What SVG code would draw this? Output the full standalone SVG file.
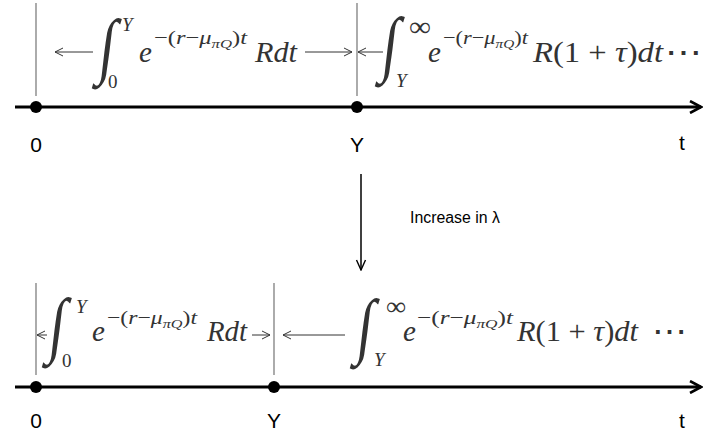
<svg xmlns="http://www.w3.org/2000/svg" width="704" height="436" viewBox="0 0 704 436">
<defs>
<marker id="axhead" viewBox="0 0 14 14" refX="12" refY="7" markerWidth="14" markerHeight="14" markerUnits="userSpaceOnUse" orient="auto">
<path d="M1,1 L12,7 L1,13" fill="none" stroke="#000" stroke-width="2.6"/>
</marker>
<marker id="mhead" viewBox="0 0 10 10" refX="9" refY="5" markerWidth="10" markerHeight="10" markerUnits="userSpaceOnUse" orient="auto">
<path d="M1,1 L9,5 L1,9" fill="none" stroke="#333" stroke-width="1"/>
</marker>
<marker id="bighead" viewBox="0 0 12 12" refX="6" refY="11" markerWidth="12" markerHeight="12" markerUnits="userSpaceOnUse" orient="0">
<path d="M1.5,1 L6,11 L10.5,1" fill="none" stroke="#000" stroke-width="1.4"/>
</marker>
</defs>
<style>
.axis{stroke:#000;stroke-width:3;fill:none}
.tick{stroke:#7f7f7f;stroke-width:1.3}
.marr{stroke:#333;stroke-width:1;fill:none}
.lab{font-family:"Liberation Sans",Arial,sans-serif;font-size:21px;fill:#000;text-anchor:middle}
.m{font-family:"Liberation Serif","Times New Roman",serif;fill:#333}
.big{font-size:29px}
.sup{font-size:19px}
.sub{font-size:13px}
.lim{font-size:19px}
.int{font-size:52px}
.i{font-style:italic}
</style>
<rect width="704" height="436" fill="#fff"/>

<g id="connectors">
<line class="axis" x1="15" y1="107" x2="701" y2="107" marker-end="url(#axhead)"/>
<line class="axis" x1="15" y1="387" x2="701" y2="387" marker-end="url(#axhead)"/>
<line class="tick" x1="36" y1="3" x2="36" y2="96"/>
<line class="tick" x1="357" y1="3" x2="357" y2="96"/>
<line class="tick" x1="36" y1="283" x2="36" y2="375"/>
<line class="tick" x1="274" y1="283" x2="274" y2="375"/>
<line class="marr" x1="93" y1="52" x2="55" y2="52" marker-end="url(#mhead)"/>
<line class="marr" x1="305" y1="52" x2="352" y2="52" marker-end="url(#mhead)"/>
<line class="marr" x1="383" y1="52" x2="358" y2="52" marker-end="url(#mhead)"/>
<line class="marr" x1="47" y1="335" x2="37" y2="335" marker-end="url(#mhead)"/>
<line class="marr" x1="252" y1="335" x2="270" y2="335" marker-end="url(#mhead)"/>
<line class="marr" x1="345" y1="335" x2="283" y2="335" marker-end="url(#mhead)"/>
<line x1="361" y1="174" x2="361" y2="270" stroke="#000" stroke-width="1.5" marker-end="url(#bighead)"/>
</g>

<g id="top-timeline">
<circle cx="36" cy="107" r="6" fill="#000"/>
<circle cx="357" cy="107" r="6" fill="#000"/>
<text class="lab" x="36" y="152">0</text>
<text class="lab" x="357" y="152">Y</text>
<text class="lab" x="682" y="150">t</text>
</g>

<g id="top-formula-left">
<text class="m int" transform="translate(97,70) skewX(-7) scale(1.1,1.4)">∫</text>
<text class="m lim i" x="122" y="31">Y</text>
<text class="m lim" x="108" y="88">0</text>
<text class="m big i" x="139" y="62">e</text>
<text class="m sup" x="154" y="44" textLength="93" lengthAdjust="spacingAndGlyphs">−(<tspan class="i">r</tspan>−<tspan class="i">μ</tspan><tspan class="sub i" dy="4">πQ</tspan><tspan dy="-4">)</tspan><tspan class="i">t</tspan></text>
<text class="m big i" x="255" y="62" textLength="42" lengthAdjust="spacingAndGlyphs">Rdt</text>
</g>

<g id="top-formula-right">
<text class="m int" transform="translate(380,68) skewX(-7) scale(1.1,1.4)">∫</text>
<text class="m" x="409" y="36" font-size="28" textLength="22" lengthAdjust="spacingAndGlyphs">∞</text>
<text class="m lim i" x="396" y="87">Y</text>
<text class="m big i" x="428" y="62">e</text>
<text class="m sup" x="443" y="44" textLength="85" lengthAdjust="spacingAndGlyphs">−(<tspan class="i">r</tspan>−<tspan class="i">μ</tspan><tspan class="sub i" dy="4">πQ</tspan><tspan dy="-4">)</tspan><tspan class="i">t</tspan></text>
<text class="m big" x="533" y="62" textLength="130" lengthAdjust="spacingAndGlyphs"><tspan class="i">R</tspan>(1 + <tspan class="i">τ</tspan>)<tspan class="i">dt</tspan></text>
<text class="m big" x="665" y="62" textLength="37" lengthAdjust="spacingAndGlyphs">⋯</text>
</g>

<g id="change-arrow">
<text x="410" y="223" font-family="'Liberation Sans',Arial,sans-serif" font-size="16" textLength="90" lengthAdjust="spacingAndGlyphs" fill="#000">Increase in λ</text>
</g>

<g id="bottom-timeline">
<circle cx="36" cy="387" r="6" fill="#000"/>
<circle cx="274" cy="387" r="6" fill="#000"/>
<text class="lab" x="36" y="428">0</text>
<text class="lab" x="274" y="428">Y</text>
<text class="lab" x="682" y="428">t</text>
</g>

<g id="bottom-formula-left">
<text class="m int" transform="translate(47,349) skewX(-7) scale(1.1,1.4)">∫</text>
<text class="m lim i" x="76" y="313">Y</text>
<text class="m lim" x="62" y="367">0</text>
<text class="m big i" x="92" y="341">e</text>
<text class="m sup" x="107" y="324" textLength="90" lengthAdjust="spacingAndGlyphs">−(<tspan class="i">r</tspan>−<tspan class="i">μ</tspan><tspan class="sub i" dy="4">πQ</tspan><tspan dy="-4">)</tspan><tspan class="i">t</tspan></text>
<text class="m big i" x="207" y="341" textLength="40" lengthAdjust="spacingAndGlyphs">Rdt</text>
</g>

<g id="bottom-formula-right">
<text class="m int" transform="translate(355,350) skewX(-7) scale(1.1,1.4)">∫</text>
<text class="m" x="386" y="315" font-size="26" textLength="20" lengthAdjust="spacingAndGlyphs">∞</text>
<text class="m lim i" x="374" y="366">Y</text>
<text class="m big i" x="403" y="341">e</text>
<text class="m sup" x="417" y="324" textLength="96" lengthAdjust="spacingAndGlyphs">−(<tspan class="i">r</tspan>−<tspan class="i">μ</tspan><tspan class="sub i" dy="4">πQ</tspan><tspan dy="-4">)</tspan><tspan class="i">t</tspan></text>
<text class="m big" x="517" y="341" textLength="121" lengthAdjust="spacingAndGlyphs"><tspan class="i">R</tspan>(1 + <tspan class="i">τ</tspan>)<tspan class="i">dt</tspan></text>
<text class="m big" x="652" y="341" textLength="35" lengthAdjust="spacingAndGlyphs">⋯</text>
</g>
</svg>
